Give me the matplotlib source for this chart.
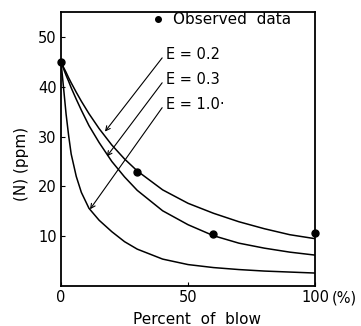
import matplotlib.pyplot as plt

# percent of blow (%) where the curves were read
pct = [0, 1, 2, 3, 4, 6, 8, 11, 15, 20, 25, 30, 40, 50, 60, 70, 80, 90, 100]

# calculated [N] (ppm) for each E
n_e02 = [45, 43.9, 42.9, 41.8, 40.8, 38.9, 37.1, 34.6, 31.6, 28.3, 25.5, 23.1,
         19.3, 16.6, 14.6, 12.9, 11.5, 10.3, 9.5]
n_e03 = [45, 43.6, 42.3, 41.1, 39.8, 37.5, 35.3, 32.2, 28.8, 25.0, 21.9, 19.2,
         15.1, 12.3, 10.1, 8.6, 7.6, 6.8, 6.2]
n_e10 = [45, 39.8, 34.5, 30.2, 26.5, 22.0, 18.8, 15.6, 13.2, 10.9, 8.9, 7.4,
         5.4, 4.3, 3.7, 3.3, 3.0, 2.8, 2.6]

# observed data
obs_pct = [0, 30, 60, 100]
obs_n = [45, 22.8, 10.4, 10.6]

# labels and where their arrows point
e_labels = ['E = 0.2', 'E = 0.3', 'E = 1.0·']
e_text_y = [46.4, 41.4, 36.4]
e_tip = [(17.3, 31.0), (18.0, 26.0), (11.4, 15.4)]

fig = plt.figure(figsize=(3.61, 3.26), dpi=100)
ax = fig.add_axes([0.169, 0.1227, 0.704, 0.8403])

for n in (n_e02, n_e03, n_e10):
    ax.plot(pct, n, color='black', lw=1.1)

ax.plot(obs_pct, obs_n, 'o', color='black', ms=5, clip_on=False, zorder=5)

for lab, ty, tip in zip(e_labels, e_text_y, e_tip):
    ax.text(41.5, ty, lab, fontsize=10.5, va='center', ha='left')
    ax.annotate('', xy=tip, xytext=(39.8, ty - 0.6),
                arrowprops=dict(arrowstyle='->', lw=0.8, color='black',
                                shrinkA=0, shrinkB=0, mutation_scale=8))

# legend
ax.plot([38.2], [53.6], 'o', color='black', ms=4)
ax.text(44, 53.6, 'Observed  data', fontsize=11, va='center', ha='left')

ax.set_xlim(0, 100)
ax.set_ylim(0, 55)
ax.set_xticks([0, 50, 100])
ax.set_xticklabels(['0', '50', '100'])
ax.set_yticks([10, 20, 30, 40, 50])
ax.tick_params(direction='in', length=3, width=0.8, labelsize=10.5, pad=3)
ax.text(106.5, -2.4, '(%)', fontsize=10.5, va='center', ha='left')

for s in ax.spines.values():
    s.set_linewidth(1.3)

ax.set_xlabel('Percent  of  blow', fontsize=11)
ax.xaxis.set_label_coords(0.535, -0.095)
ax.set_ylabel('(N) (ppm)', fontsize=11)
ax.yaxis.set_label_coords(-0.125, 0.445)

fig.savefig('out.png', dpi=100)
